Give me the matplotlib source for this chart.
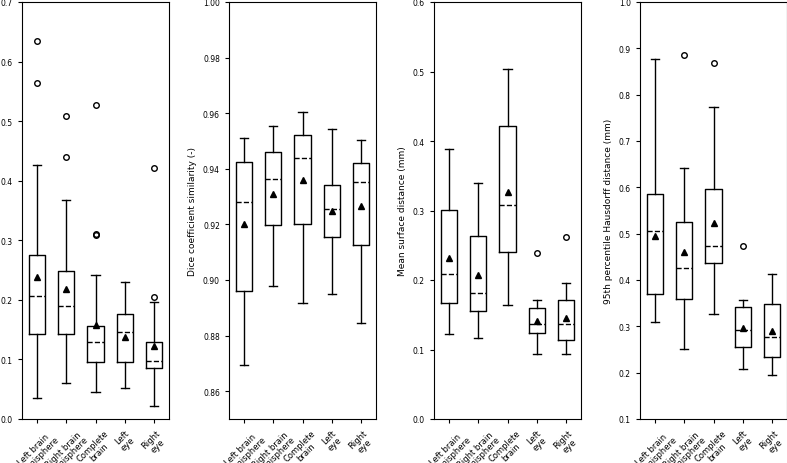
import matplotlib
matplotlib.use("Agg")
import matplotlib.pyplot as plt

labels = ["Left brain\nhemisphere", "Right brain\nhemisphere", "Complete\nbrain", "Left\neye", "Right\neye"]

# center of mass displacement (mm)
com_low = [0.035, 0.061, 0.045, 0.052, 0.021]
com_q1 = [0.142, 0.143, 0.096, 0.095, 0.085]
com_med = [0.206, 0.190, 0.129, 0.146, 0.098]
com_q3 = [0.276, 0.249, 0.156, 0.176, 0.130]
com_high = [0.427, 0.367, 0.242, 0.230, 0.197]
com_mean = [0.238, 0.219, 0.158, 0.138, 0.122]
com_fliers = [[0.635, 0.564], [0.509, 0.439], [0.527, 0.311, 0.309], [], [0.421, 0.205]]

# dice coefficient
dsc_low = [0.8696, 0.8977, 0.8916, 0.8949, 0.8844]
dsc_q1 = [0.8962, 0.9199, 0.9200, 0.9156, 0.9127]
dsc_med = [0.9281, 0.9362, 0.9440, 0.9256, 0.9354]
dsc_q3 = [0.9423, 0.9459, 0.9523, 0.9342, 0.9422]
dsc_high = [0.9512, 0.9553, 0.9603, 0.9544, 0.9504]
dsc_mean = [0.9201, 0.9310, 0.9358, 0.9249, 0.9267]
dsc_fliers = [[], [], [], [], []]

# mean surface distance (mm)
msd_low = [0.122, 0.117, 0.164, 0.094, 0.094]
msd_q1 = [0.167, 0.155, 0.241, 0.124, 0.114]
msd_med = [0.208, 0.182, 0.308, 0.136, 0.136]
msd_q3 = [0.301, 0.264, 0.421, 0.159, 0.171]
msd_high = [0.388, 0.339, 0.504, 0.171, 0.196]
msd_mean = [0.232, 0.207, 0.327, 0.141, 0.145]
msd_fliers = [[], [], [], [0.239], [0.262]]

# 95th percentile hausdorff distance (mm)
hd_low = [0.310, 0.252, 0.327, 0.207, 0.194]
hd_q1 = [0.369, 0.360, 0.436, 0.255, 0.233]
hd_med = [0.505, 0.426, 0.474, 0.293, 0.278]
hd_q3 = [0.585, 0.525, 0.597, 0.342, 0.349]
hd_high = [0.878, 0.642, 0.774, 0.357, 0.413]
hd_mean = [0.496, 0.460, 0.524, 0.297, 0.289]
hd_fliers = [[], [0.885], [0.868], [0.474], []]

panels = [
    (com_low, com_q1, com_med, com_q3, com_high, com_mean, com_fliers,
     "Center of mass displacement (mm)", (0.0, 0.7), [0.0, 0.1, 0.2, 0.3, 0.4, 0.5, 0.6, 0.7], "%.1f"),
    (dsc_low, dsc_q1, dsc_med, dsc_q3, dsc_high, dsc_mean, dsc_fliers,
     "Dice coefficient similarity (-)", (0.85, 1.0), [0.86, 0.88, 0.90, 0.92, 0.94, 0.96, 0.98, 1.00], "%.2f"),
    (msd_low, msd_q1, msd_med, msd_q3, msd_high, msd_mean, msd_fliers,
     "Mean surface distance (mm)", (0.0, 0.6), [0.0, 0.1, 0.2, 0.3, 0.4, 0.5, 0.6], "%.1f"),
    (hd_low, hd_q1, hd_med, hd_q3, hd_high, hd_mean, hd_fliers,
     "95th percentile Hausdorff distance (mm)", (0.1, 1.0), [0.1, 0.2, 0.3, 0.4, 0.5, 0.6, 0.7, 0.8, 0.9, 1.0], "%.1f"),
]

fig = plt.figure(figsize=(7.87, 4.64), dpi=100)
lefts = [22, 229, 434, 640]

for left, (lo, q1, med, q3, hi, mn, fl, ylab, ylim, yt, fmt) in zip(lefts, panels):
    ax = fig.add_axes([left / 787, 44 / 464, 147 / 787, 417 / 464])
    stats = []
    for i in range(len(labels)):
        stats.append(dict(whislo=lo[i], q1=q1[i], med=med[i], q3=q3[i], whishi=hi[i],
                          mean=mn[i], fliers=fl[i], label=labels[i]))
    ax.bxp(stats, widths=0.55, showmeans=True,
           boxprops=dict(color='black', linewidth=1),
           whiskerprops=dict(color='black', linewidth=1),
           capprops=dict(color='black', linewidth=1),
           medianprops=dict(color='black', linestyle='--', linewidth=1),
           meanprops=dict(marker='^', markerfacecolor='black', markeredgecolor='black', markersize=4),
           flierprops=dict(marker='o', markerfacecolor='none', markeredgecolor='black', markersize=4))
    ax.set_ylim(*ylim)
    ax.set_yticks(yt)
    ax.set_yticklabels([fmt % v for v in yt], fontsize=5.5)
    ax.set_xticklabels(labels, rotation=45, fontsize=6, linespacing=1.0)
    ax.tick_params(length=3, width=0.8)
    ax.set_ylabel(ylab, fontsize=6.5)

plt.savefig('out.png')
